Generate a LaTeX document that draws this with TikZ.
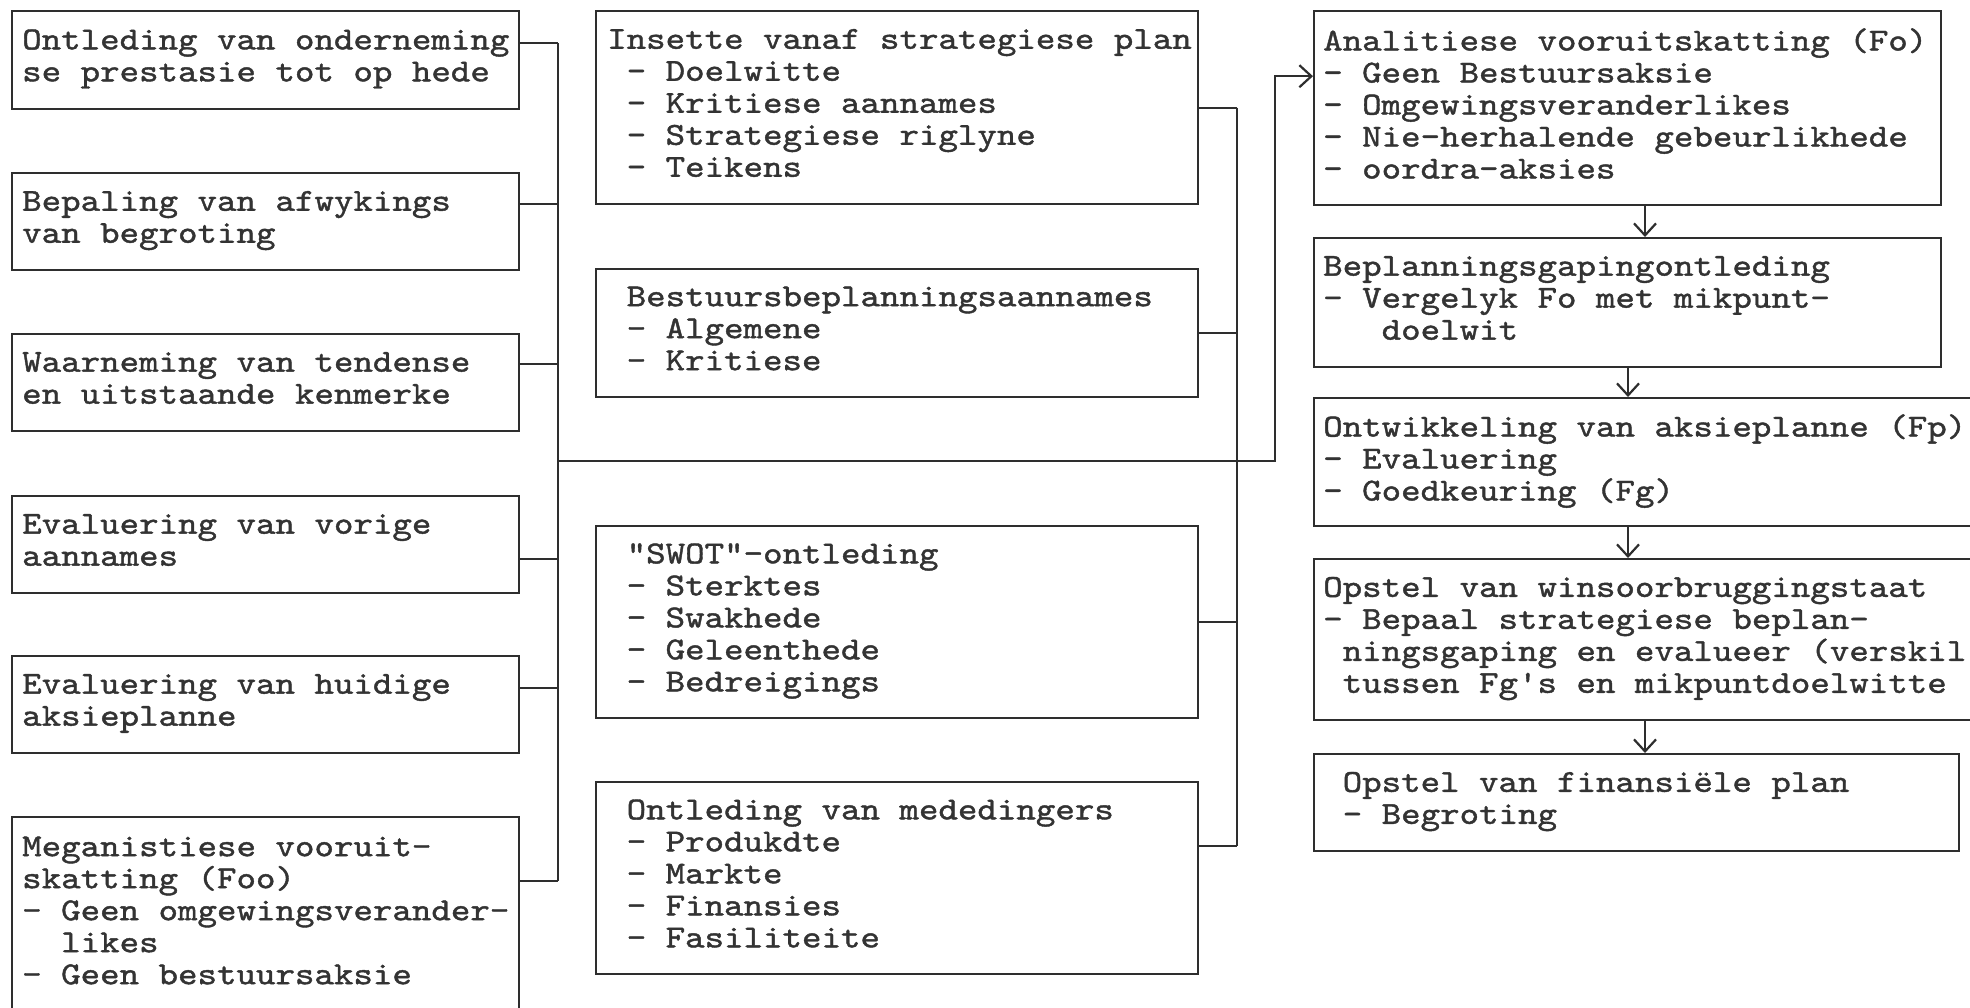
\documentclass[tikz,border=0pt]{standalone}
\usepackage{fontspec}
\newfontfamily\boxfont{lmmono10-regular.otf}[FakeStretch=1.16,FakeBold=1.3]
\usetikzlibrary{arrows.meta}
\definecolor{ink}{HTML}{2E2E2E}
\definecolor{txt}{HTML}{333333}

\begin{document}
\begin{tikzpicture}[x=1pt,y=-1pt,
  box/.style={draw=ink, line width=2.4pt, rectangle, inner sep=0pt, anchor=north west},
  boxtext/.style={anchor=west, inner sep=0pt, align=left, text=txt,
    font={\boxfont\fontsize{32pt}{32pt}\selectfont},
    execute at begin node=\strut, execute at end node=\strut},
  conn/.style={draw=ink, line width=2.2pt},
  arr/.style={-{Straight Barb[length=12pt,width=22pt]}}
]
\fill[white] (0,0) rectangle (1970,1007);
\useasboundingbox (0,0) rectangle (1970,1007);

% ---------- left column: review of the current position ----------
\node[box, minimum width=507pt, minimum height=98pt]  (b1) at (11,10)  {};
\node[box, minimum width=507pt, minimum height=97pt]  (b2) at (11,172) {};
\node[box, minimum width=507pt, minimum height=97pt]  (b3) at (11,333) {};
\node[box, minimum width=507pt, minimum height=97pt]  (b4) at (11,495) {};
\node[box, minimum width=507pt, minimum height=97pt]  (b5) at (11,655) {};
\node[box, minimum width=507pt, minimum height=196pt] (b6) at (11,816) {};

\node[boxtext] (t1) at ([xshift=11pt]b1.west) {Ontleding van onderneming\\se prestasie tot op hede};
\node[boxtext] (t2) at ([xshift=11pt]b2.west) {Bepaling van afwykings\\van begroting};
\node[boxtext] (t3) at ([xshift=11pt]b3.west) {Waarneming van tendense\\en uitstaande kenmerke};
\node[boxtext] (t4) at ([xshift=11pt]b4.west) {Evaluering van vorige\\aannames};
\node[boxtext] (t5) at ([xshift=11pt]b5.west) {Evaluering van huidige\\aksieplanne};
\node[boxtext] (t6) at ([xshift=11pt]b6.west) {Meganistiese vooruit-\\skatting (Foo)\\- Geen omgewingsverander-\\\phantom{--}likes\\- Geen bestuursaksie};

% ---------- middle column: planning inputs ----------
\node[box, minimum width=602pt, minimum height=193pt] (mA) at (595,10)  {};
\node[box, minimum width=602pt, minimum height=128pt] (mB) at (595,268) {};
\node[box, minimum width=602pt, minimum height=192pt] (mC) at (595,525) {};
\node[box, minimum width=602pt, minimum height=192pt] (mD) at (595,781) {};

\node[boxtext] (tA) at ([xshift=12pt]mA.west) {Insette vanaf strategiese plan\\\phantom{-}- Doelwitte\\\phantom{-}- Kritiese aannames\\\phantom{-}- Strategiese riglyne\\\phantom{-}- Teikens};
\node[boxtext] (tB) at ([xshift=12pt]mB.west) {\phantom{-}Bestuursbeplanningsaannames\\\phantom{-}- Algemene\\\phantom{-}- Kritiese};
\node[boxtext] (tC) at ([xshift=12pt]mC.west) {\phantom{-}"SWOT"-ontleding\\\phantom{-}- Sterktes\\\phantom{-}- Swakhede\\\phantom{-}- Geleenthede\\\phantom{-}- Bedreigings};
\node[boxtext] (tD) at ([xshift=12pt]mD.west) {\phantom{-}Ontleding van mededingers\\\phantom{-}- Produkdte\\\phantom{-}- Markte\\\phantom{-}- Finansies\\\phantom{-}- Fasiliteite};

% ---------- right column: the planning sequence ----------
\node[box, minimum width=627pt, minimum height=194pt] (rE) at (1313,10)  {};
\node[box, minimum width=627pt, minimum height=129pt] (rF) at (1313,237) {};
\node[box, minimum width=677pt, minimum height=128pt] (rG) at (1313,397) {};
\node[box, minimum width=677pt, minimum height=161pt] (rH) at (1313,558) {};
\node[box, minimum width=645pt, minimum height=97pt]  (rI) at (1313,753) {};

\node[boxtext] (tE) at ([xshift=10pt]rE.west) {Analitiese vooruitskatting (Fo)\\- Geen Bestuursaksie\\- Omgewingsveranderlikes\\- Nie-herhalende gebeurlikhede\\- oordra-aksies};
\node[boxtext] (tF) at ([xshift=10pt]rF.west) {Beplanningsgapingontleding\\- Vergelyk Fo met mikpunt-\\\phantom{---}doelwit};
\node[boxtext] (tG) at ([xshift=10pt]rG.west) {Ontwikkeling van aksieplanne (Fp)\\- Evaluering\\- Goedkeuring (Fg)};
\node[boxtext] (tH) at ([xshift=10pt]rH.west) {Opstel van winsoorbruggingstaat\\- Bepaal strategiese beplan-\\\phantom{-}ningsgaping en evalueer (verskil\\\phantom{-}tussen Fg's en mikpuntdoelwitte};
\node[boxtext] (tI) at ([xshift=10pt]rI.west) {\phantom{-}Opstel van finansiële plan\\\phantom{-}- Begroting};

% ---------- bus lines ----------
\coordinate (lbus) at (558,461);
\coordinate (mbus) at (1237,461);
\coordinate (feed) at (1275,461);
\coordinate (ax1) at (1645,0);
\coordinate (ax2) at (1628,0);

\coordinate (p1) at ([yshift=17pt]b1.east);
\coordinate (p2) at ([yshift=17.5pt]b2.east);
\coordinate (p3) at ([yshift=18.5pt]b3.east);
\coordinate (p4) at ([yshift=-14.5pt]b4.east);
\coordinate (p5) at ([yshift=16.5pt]b5.east);
\coordinate (p6) at ([yshift=34pt]b6.east);

\coordinate (q1) at (mA.east);
\coordinate (q2) at (mB.east);
\coordinate (q3) at (mC.east);
\coordinate (q4) at ([yshift=32pt]mD.east);

\foreach \i in {1,...,6} \draw[conn] (p\i) -- (p\i -| lbus);
\draw[conn] (p1 -| lbus) -- (p6 -| lbus);

\foreach \i in {1,...,4} \draw[conn] (q\i) -- (q\i -| mbus);
\draw[conn] (q1 -| mbus) -- (q4 -| mbus);

\coordinate (ein) at ([yshift=32pt]rE.west);
\draw[conn, arr] (lbus) -- (feed) |- (ein);

% ---------- sequence arrows ----------
\draw[conn, arr] (rE.south -| ax1) -- (rF.north -| ax1);
\draw[conn, arr] (rF.south -| ax2) -- (rG.north -| ax2);
\draw[conn, arr] (rG.south -| ax2) -- (rH.north -| ax2);
\draw[conn, arr] (rH.south -| ax1) -- (rI.north -| ax1);
\end{tikzpicture}
\end{document}
